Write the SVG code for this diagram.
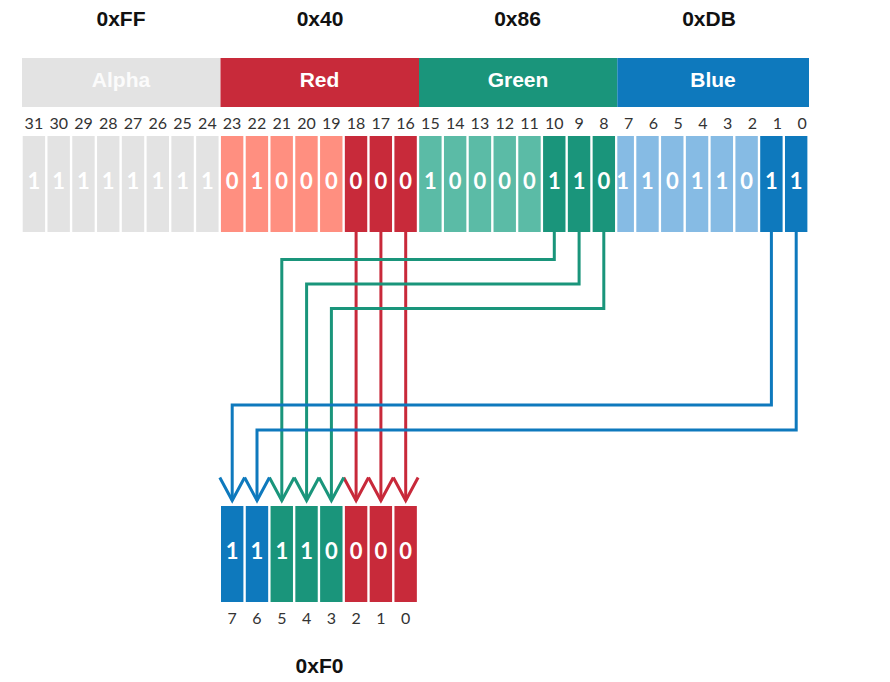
<svg xmlns="http://www.w3.org/2000/svg" width="890" height="682" viewBox="0 0 890 682">
<style>
.title{font-family:"Liberation Sans",Arial,sans-serif;font-weight:bold;font-size:21px;fill:#111;text-anchor:middle}
.band{font-family:"Liberation Sans",Arial,sans-serif;font-weight:bold;font-size:21px;fill:#fff;text-anchor:middle}
.lbl{font-family:Lato,"Liberation Sans",sans-serif;font-size:16px;fill:#333;text-anchor:middle}
.dig{font-family:Lato,"Liberation Sans",sans-serif;font-weight:bold;font-size:22px;fill:#fff;text-anchor:middle}
.a{fill:#e3e3e3}.rl{fill:#ff8f80}.rd{fill:#c82a3a}.gl{fill:#5bbba6}.gd{fill:#1a957b}.bl{fill:#86bbe4}.bd{fill:#0e79bd}
.ln{fill:none;stroke-width:3}
</style>
<defs>
<clipPath id="clipBlue"><rect x="617.3" y="120" width="200" height="120"/></clipPath>
<marker id="ahR" markerUnits="userSpaceOnUse" orient="auto" overflow="visible" refX="0" refY="0" markerWidth="1" markerHeight="1"><path d="M-23,-12.4 L0,0 L-23,12.4" fill="none" stroke="#c8293a" stroke-width="3"/></marker>
<marker id="ahG" markerUnits="userSpaceOnUse" orient="auto" overflow="visible" refX="0" refY="0" markerWidth="1" markerHeight="1"><path d="M-23,-12.4 L0,0 L-23,12.4" fill="none" stroke="#1a957b" stroke-width="3"/></marker>
<marker id="ahB" markerUnits="userSpaceOnUse" orient="auto" overflow="visible" refX="0" refY="0" markerWidth="1" markerHeight="1"><path d="M-23,-12.4 L0,0 L-23,12.4" fill="none" stroke="#0e79bd" stroke-width="3"/></marker>
</defs>
<rect width="890" height="682" fill="#fff"/>

<g id="alpha">
<text class="title" x="121" y="25.5">0xFF</text>
<rect class="a" x="22" y="58" width="198.5" height="49"/>
<text class="band" x="121" y="87" style="fill:#fbfbfb">Alpha</text>
<g class="lbl"><text x="33.9" y="128.5">31</text><text x="58.7" y="128.5">30</text><text x="83.5" y="128.5">29</text><text x="108.2" y="128.5">28</text><text x="133" y="128.5">27</text><text x="157.8" y="128.5">26</text><text x="182.6" y="128.5">25</text><text x="207.4" y="128.5">24</text></g>
<rect class="a" x="22.7" y="136" width="22.4" height="96"/><rect class="a" x="47.48" y="136" width="22.4" height="96"/><rect class="a" x="72.26" y="136" width="22.4" height="96"/><rect class="a" x="97.04" y="136" width="22.4" height="96"/><rect class="a" x="121.82" y="136" width="22.4" height="96"/><rect class="a" x="146.6" y="136" width="22.4" height="96"/><rect class="a" x="171.38" y="136" width="22.4" height="96"/><rect class="a" x="196.16" y="136" width="22.4" height="96"/>
<g class="dig"><text x="33.9" y="188.5">1</text><text x="58.7" y="188.5">1</text><text x="83.5" y="188.5">1</text><text x="108.2" y="188.5">1</text><text x="133" y="188.5">1</text><text x="157.8" y="188.5">1</text><text x="182.6" y="188.5">1</text><text x="207.4" y="188.5">1</text></g>
</g>

<g id="red">
<text class="title" x="320" y="25.5">0x40</text>
<rect class="rd" x="220.5" y="58" width="198.5" height="49"/>
<text class="band" x="319.5" y="87">Red</text>
<g class="lbl"><text x="232.1" y="128.5">23</text><text x="256.9" y="128.5">22</text><text x="281.7" y="128.5">21</text><text x="306.5" y="128.5">20</text><text x="331.3" y="128.5">19</text><text x="356" y="128.5">18</text><text x="380.8" y="128.5">17</text><text x="405.6" y="128.5">16</text></g>
<rect class="rl" x="220.94" y="136" width="22.4" height="96"/><rect class="rl" x="245.72" y="136" width="22.4" height="96"/><rect class="rl" x="270.5" y="136" width="22.4" height="96"/><rect class="rl" x="295.28" y="136" width="22.4" height="96"/><rect class="rl" x="320.06" y="136" width="22.4" height="96"/><rect class="rd" x="344.84" y="136" width="22.4" height="96"/><rect class="rd" x="369.62" y="136" width="22.4" height="96"/><rect class="rd" x="394.4" y="136" width="22.4" height="96"/>
<g class="dig"><text x="232.1" y="188.5">0</text><text x="256.9" y="188.5">1</text><text x="281.7" y="188.5">0</text><text x="306.5" y="188.5">0</text><text x="331.3" y="188.5">0</text><text x="356" y="188.5">0</text><text x="380.8" y="188.5">0</text><text x="405.6" y="188.5">0</text></g>
</g>

<g id="green">
<text class="title" x="517.5" y="25.5">0x86</text>
<rect class="gd" x="419" y="58" width="198.3" height="49"/>
<text class="band" x="518" y="87">Green</text>
<g class="lbl"><text x="430.4" y="128.5">15</text><text x="455.2" y="128.5">14</text><text x="479.9" y="128.5">13</text><text x="504.7" y="128.5">12</text><text x="529.5" y="128.5">11</text><text x="554.3" y="128.5">10</text><text x="579.1" y="128.5">9</text><text x="603.8" y="128.5">8</text></g>
<rect class="gl" x="419.18" y="136" width="22.4" height="96"/><rect class="gl" x="443.96" y="136" width="22.4" height="96"/><rect class="gl" x="468.74" y="136" width="22.4" height="96"/><rect class="gl" x="493.52" y="136" width="22.4" height="96"/><rect class="gl" x="518.3" y="136" width="22.4" height="96"/><rect class="gd" x="543.08" y="136" width="22.4" height="96"/><rect class="gd" x="567.86" y="136" width="22.4" height="96"/><rect class="gd" x="592.64" y="136" width="22.4" height="96"/>
<g class="dig"><text x="430.4" y="188.5">1</text><text x="455.2" y="188.5">0</text><text x="479.9" y="188.5">0</text><text x="504.7" y="188.5">0</text><text x="529.5" y="188.5">0</text><text x="554.3" y="188.5">1</text><text x="579.1" y="188.5">1</text><text x="603.8" y="188.5">0</text></g>
</g>

<g id="blue">
<text class="title" x="709" y="25.5">0xDB</text>
<rect class="bd" x="617.3" y="58" width="191.7" height="49"/>
<text class="band" x="713" y="87">Blue</text>
<g class="lbl"><text x="628.6" y="128.5">7</text><text x="653.4" y="128.5">6</text><text x="678.2" y="128.5">5</text><text x="703" y="128.5">4</text><text x="727.7" y="128.5">3</text><text x="752.5" y="128.5">2</text><text x="777.3" y="128.5">1</text><text x="802.1" y="128.5">0</text></g>
<g clip-path="url(#clipBlue)">
<rect class="bl" x="611.52" y="136" width="22.4" height="96"/><rect class="bl" x="636.3" y="136" width="22.4" height="96"/><rect class="bl" x="661.08" y="136" width="22.4" height="96"/><rect class="bl" x="685.86" y="136" width="22.4" height="96"/><rect class="bl" x="710.64" y="136" width="22.4" height="96"/><rect class="bl" x="735.42" y="136" width="22.4" height="96"/><rect class="bd" x="760.2" y="136" width="22.4" height="96"/><rect class="bd" x="784.98" y="136" width="22.4" height="96"/>
<g class="dig"><text x="622.7" y="188.5">1</text><text x="647.5" y="188.5">1</text><text x="672.3" y="188.5">0</text><text x="697.1" y="188.5">1</text><text x="721.8" y="188.5">1</text><text x="746.6" y="188.5">0</text><text x="771.4" y="188.5">1</text><text x="796.2" y="188.5">1</text></g>
</g>
</g>

<g id="connectors">
<path class="ln" stroke="#c8293a" marker-end="url(#ahR)" d="M356.1,232 V500.5"/>
<path class="ln" stroke="#c8293a" marker-end="url(#ahR)" d="M380.9,232 V500.5"/>
<path class="ln" stroke="#c8293a" marker-end="url(#ahR)" d="M405.7,232 V500.5"/>
<path class="ln" stroke="#1a957b" marker-end="url(#ahG)" d="M554.3,232 V259.5 H281.8 V500.5"/>
<path class="ln" stroke="#1a957b" marker-end="url(#ahG)" d="M579.1,232 V284 H306.6 V500.5"/>
<path class="ln" stroke="#1a957b" marker-end="url(#ahG)" d="M603.8,232 V308.5 H331.4 V500.5"/>
<path class="ln" stroke="#0e79bd" marker-end="url(#ahB)" d="M771.4,232 V405 H232.2 V500.5"/>
<path class="ln" stroke="#0e79bd" marker-end="url(#ahB)" d="M796.2,232 V430 H257 V500.5"/>
</g>

<g id="output-byte">
<rect class="bd" x="221" y="506" width="22.4" height="96"/><rect class="bd" x="245.78" y="506" width="22.4" height="96"/><rect class="gd" x="270.56" y="506" width="22.4" height="96"/><rect class="gd" x="295.34" y="506" width="22.4" height="96"/><rect class="gd" x="320.12" y="506" width="22.4" height="96"/><rect class="rd" x="344.9" y="506" width="22.4" height="96"/><rect class="rd" x="369.68" y="506" width="22.4" height="96"/><rect class="rd" x="394.46" y="506" width="22.4" height="96"/>
<g class="dig"><text x="232.2" y="558.5">1</text><text x="257" y="558.5">1</text><text x="281.8" y="558.5">1</text><text x="306.6" y="558.5">1</text><text x="331.4" y="558.5">0</text><text x="356.1" y="558.5">0</text><text x="380.9" y="558.5">0</text><text x="405.7" y="558.5">0</text></g>
<g class="lbl"><text x="232.2" y="623.5">7</text><text x="257" y="623.5">6</text><text x="281.8" y="623.5">5</text><text x="306.6" y="623.5">4</text><text x="331.4" y="623.5">3</text><text x="356.1" y="623.5">2</text><text x="380.9" y="623.5">1</text><text x="405.7" y="623.5">0</text></g>
<text class="title" x="319.5" y="673">0xF0</text>
</g>
</svg>
